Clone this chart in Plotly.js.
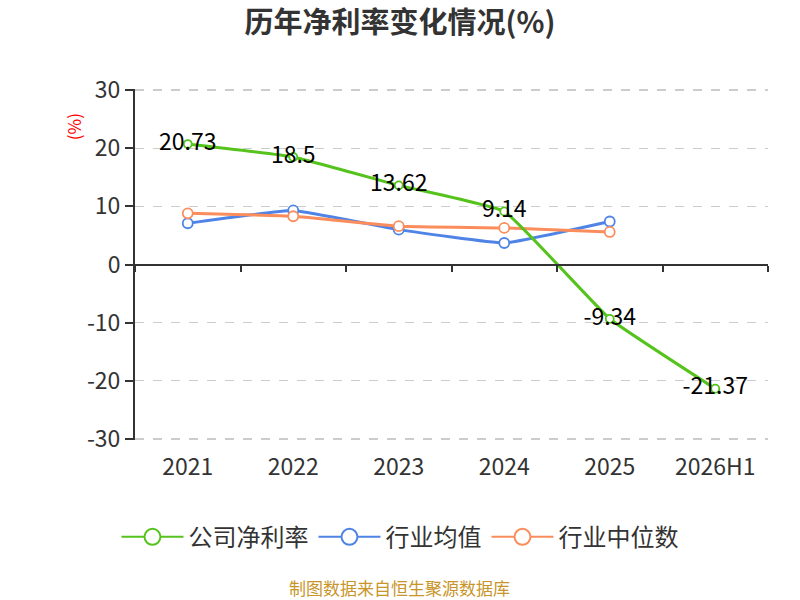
<!DOCTYPE html>
<html>
<head>
<meta charset="utf-8">
<script src="https://cdn.plot.ly/plotly-3.0.1.min.js"></script>
<style>html,body{margin:0;padding:0;background:#fff;}#chart{width:800px;height:600px;}</style>
</head>
<body>
<div id="chart"></div>
<script>
const categories = ["2021", "2022", "2023", "2024", "2025", "2026H1"];
const companyNetMargin = [20.73, 18.5, 13.62, 9.14, -9.34, -21.37];
const industryMean = [7.1, 9.3, 6.0, 3.7, 7.4];
const industryMedian = [8.8, 8.3, 6.6, 6.3, 5.6];
const seriesNames = ["公司净利率", "行业均值", "行业中位数"];
const yTicks = [-30, -20, -10, 0, 10, 20, 30];
const yTickText = ["-30", "-20", "-10", "0", "10", "20", "30"];
const boundaryTicks = [-0.5, 0.5, 1.5, 2.5, 3.5, 4.5, 5.5];

const GREEN = "#55c31c", BLUE = "#4f84e6", ORANGE = "#fb8d5c";
const font = "'Noto Sans CJK SC', 'Noto Sans', sans-serif";

function series(name, x, y, color, msize, withText) {
  const t = {
    type: "scatter", mode: withText ? "lines+markers+text" : "lines+markers",
    name: name, x: x, y: y, showlegend: false, cliponaxis: false,
    line: {color: color, width: 3, shape: "spline", smoothing: 0.3},
    marker: {symbol: "circle", size: msize, color: "#fff", line: {color: color, width: 1.8}}
  };
  if (withText) {
    t.text = y.map(v => String(v));
    t.textposition = "middle center";
    t.textfont = {size: 23, color: "#000", family: font};
  }
  return t;
}
function legendItem(name, color) {
  return {
    type: "scatter", mode: "lines+markers", name: name, x: [null], y: [null], xaxis: "x2",
    line: {color: color, width: 2},
    marker: {symbol: "circle", size: 22, color: "#fff", line: {color: color, width: 2}}
  };
}

const data = [
  series(seriesNames[1], categories.slice(0, 5), industryMean, BLUE, 10, false),
  series(seriesNames[2], categories.slice(0, 5), industryMedian, ORANGE, 10, false),
  series(seriesNames[0], categories, companyNetMargin, GREEN, 8, true),
  legendItem(seriesNames[0], GREEN),
  legendItem(seriesNames[1], BLUE),
  legendItem(seriesNames[2], ORANGE)
];

const layout = {
  width: 800, height: 600,
  margin: {l: 135, r: 32, t: 89, b: 160, autoexpand: false},
  paper_bgcolor: "#fff", plot_bgcolor: "#fff",
  font: {family: font, color: "#333"},
  title: {text: "<b>历年净利率变化情况(%)</b>", x: 0.5, xanchor: "center", y: 0.962, yanchor: "middle",
          font: {size: 29, color: "#333", family: font}},
  xaxis: {type: "category", categoryarray: categories, range: [-0.5, 5.5],
          showline: false, showgrid: false, zeroline: false, ticks: "",
          tickfont: {size: 23, color: "#333"}, ticklabelstandoff: 11, fixedrange: true},
  xaxis2: {overlaying: "x", anchor: "free", position: 0.5, range: [-0.5, 5.5],
           tickmode: "array", tickvals: boundaryTicks, showticklabels: false,
           showline: true, linecolor: "#333", linewidth: 2, ticks: "outside", ticklen: 6,
           tickcolor: "#333", tickwidth: 2, showgrid: false, zeroline: false},
  yaxis: {range: [-30.2, 30.2], tickmode: "array", tickvals: yTicks, ticktext: yTickText,
          showline: true, linecolor: "#333", linewidth: 2, ticks: "outside", ticklen: 8,
          tickcolor: "#333", tickwidth: 2, tickfont: {size: 23, color: "#333"},
          showgrid: true, gridcolor: "#cccccc", griddash: "dash", gridwidth: 1.5,
          zeroline: false},
  legend: {orientation: "h", x: 0.4186, xanchor: "center", y: -0.277, yanchor: "middle",
           font: {size: 24, color: "#333", family: font}, itemwidth: 62, tracegroupgap: 0},
  annotations: [
    {text: "(%)", xref: "paper", yref: "paper", x: -0.098, y: 0.894, textangle: -90,
     showarrow: false, font: {size: 17, color: "#ff0000"}, xanchor: "center", yanchor: "middle"},
    {text: "制图数据来自恒生聚源数据库", xref: "paper", yref: "paper", x: 0.4185, y: -0.419,
     showarrow: false, font: {size: 17, color: "#c8952a"}, xanchor: "center", yanchor: "middle"}
  ]
};

Plotly.newPlot("chart", data, layout, {displayModeBar: false, staticPlot: true});
</script>
</body>
</html>
